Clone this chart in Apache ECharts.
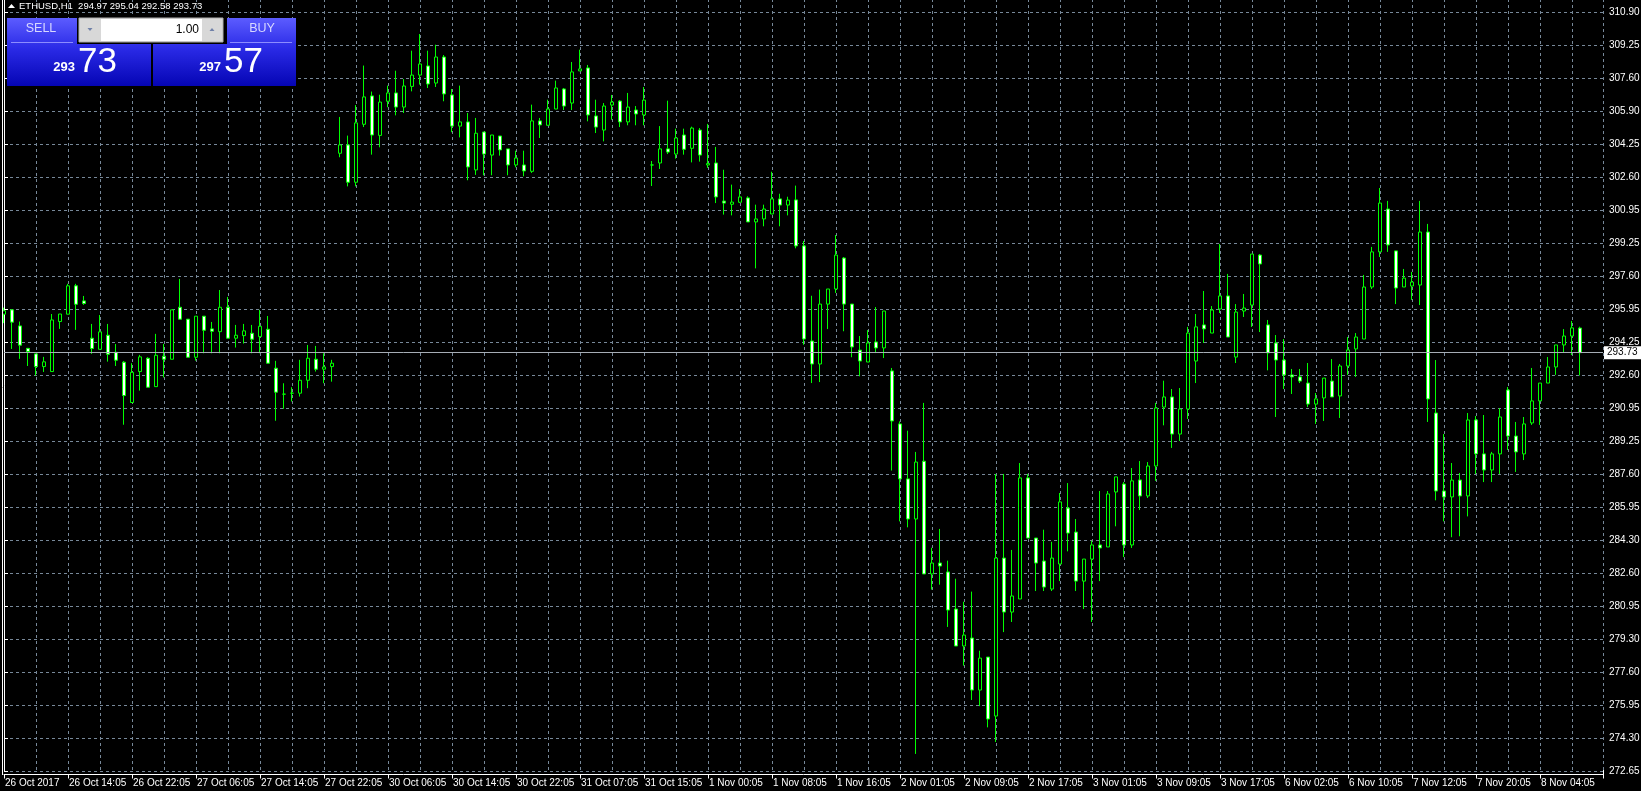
<!DOCTYPE html>
<html><head><meta charset="utf-8">
<style>html,body{margin:0;padding:0;background:#000;}#c{width:1641px;height:791px;}</style>
<script src="https://cdn.jsdelivr.net/npm/echarts@6/dist/echarts.min.js"></script>
</head><body><div id="c"></div>
<script>
const symbolName = 'ETHUSD,H1';
const xTickLabels = ['26 Oct 2017','26 Oct 14:05','26 Oct 22:05','27 Oct 06:05','27 Oct 14:05','27 Oct 22:05','30 Oct 06:05','30 Oct 14:05','30 Oct 22:05','31 Oct 07:05','31 Oct 15:05','1 Nov 00:05','1 Nov 08:05','1 Nov 16:05','2 Nov 01:05','2 Nov 09:05','2 Nov 17:05','3 Nov 01:05','3 Nov 09:05','3 Nov 17:05','6 Nov 02:05','6 Nov 10:05','7 Nov 12:05','7 Nov 20:05','8 Nov 04:05'];
const yTickLabels = ['272.65','274.30','275.95','277.60','279.30','280.95','282.60','284.30','285.95','287.60','289.25','290.95','292.60','294.25','295.95','297.60','299.25','300.95','302.60','304.25','305.90','307.60','309.25','310.90'];

const opens = [295.67,295.89,295.08,293.95,293.67,293.03,292.78,295.30,295.67,297.10,296.34,294.46,293.90,294.61,293.75,293.25,291.22,292.78,293.45,292.02,293.55,293.40,296.02,295.42,293.50,295.57,294.93,294.79,296.02,294.46,294.59,294.71,294.54,294.91,292.95,291.64,291.69,291.69,292.34,293.40,292.90,293.03,
303.78,304.20,302.32,305.24,306.67,304.68,306.40,306.82,306.11,307.15,307.72,308.18,307.32,308.63,306.72,305.15,305.36,302.94,304.85,303.69,304.65,304.00,303.19,303.19,302.87,305.41,305.19,306.01,307.02,306.31,307.93,308.08,305.66,304.95,306.21,306.41,305.36,305.96,305.71,
303.19,303.29,304.00,303.74,304.70,304.03,304.95,303.19,303.29,301.37,301.21,301.31,301.53,300.32,300.47,300.72,301.48,301.17,301.43,299.11,294.32,293.16,296.18,296.94,298.50,296.18,293.86,293.26,294.27,293.97,
292.81,290.14,287.37,285.35,288.26,282.58,283.13,282.68,280.81,278.95,279.35,276.73,278.39,275.42,283.38,280.66,281.32,287.42,284.39,283.23,281.82,283.08,285.90,284.69,282.22,283.33,284.04,283.94,286.71,287.11,284.04,287.32,286.51,288.02,
290.99,291.50,289.63,290.89,293.31,295.13,294.72,295.93,296.59,293.51,295.83,296.13,298.65,295.13,294.22,293.36,292.61,292.51,292.20,291.14,291.45,292.30,291.55,293.06,293.92,294.42,297.04,298.81,300.97,298.86,297.04,297.09,297.14,299.81,
290.69,286.76,286.46,287.31,286.51,290.34,288.63,287.82,288.63,291.85,289.53,288.63,290.19,291.30,292.20,293.01,294.12,294.57,294.97];
const closes = [295.84,295.27,294.11,293.79,293.03,293.27,295.38,295.68,297.10,296.17,296.21,293.94,294.78,293.65,293.35,291.57,292.74,293.52,291.99,293.60,293.40,295.89,295.42,293.50,295.57,294.86,294.81,296.02,294.46,294.61,294.83,294.41,295.06,293.20,291.74,291.64,291.69,292.34,293.45,292.90,293.01,293.20,
304.20,302.32,305.31,306.62,304.70,306.36,306.82,306.11,307.17,307.72,308.28,307.27,308.63,306.77,305.15,305.36,303.09,304.79,303.74,304.70,303.95,303.19,303.54,302.89,305.41,305.21,306.01,307.07,306.16,307.88,308.03,305.71,305.10,306.16,306.36,305.36,306.11,305.76,306.46,
303.19,304.00,303.84,304.55,303.98,305.05,303.69,303.26,301.58,301.27,301.32,301.58,300.32,300.47,300.97,301.48,301.17,301.42,299.11,294.42,293.16,296.18,296.94,298.65,296.18,294.02,293.31,294.22,293.97,295.83,
290.29,287.37,285.35,288.22,282.58,283.13,282.98,280.76,278.95,279.50,276.73,278.34,275.27,283.38,280.66,281.47,287.42,284.39,283.13,281.92,283.38,286.21,284.64,282.22,283.33,284.04,283.89,286.61,287.47,284.04,287.27,286.51,288.02,290.94,
291.50,289.63,290.89,294.72,295.03,294.93,295.88,296.59,294.52,295.78,295.98,298.70,298.20,293.72,293.36,292.61,292.51,292.30,291.14,291.40,292.45,291.50,293.06,293.87,294.52,297.04,298.81,301.27,299.16,296.99,297.49,297.29,299.81,291.40,
286.76,286.46,287.31,286.51,290.34,288.63,287.82,288.63,290.49,289.53,288.73,290.14,291.30,292.20,293.01,294.12,294.57,294.98,293.73];
const lows = [295.22,293.92,293.42,293.06,292.58,292.76,292.78,294.93,295.67,294.88,296.14,293.67,293.90,293.28,293.06,290.10,291.22,291.82,291.99,292.02,292.48,293.40,295.42,293.50,293.33,293.70,293.70,293.70,294.46,293.99,294.19,293.70,293.70,293.20,290.30,290.90,291.27,291.52,291.94,292.78,292.19,292.27,
303.58,302.11,302.11,305.10,303.71,304.08,306.10,305.69,305.81,306.90,307.24,307.07,307.12,306.40,304.84,304.58,302.42,302.69,302.67,302.67,303.66,302.67,303.07,302.62,302.79,304.55,305.19,306.01,305.96,305.96,307.93,305.39,304.80,304.38,305.47,305.10,305.19,305.19,305.19,
302.13,302.99,303.74,303.51,303.71,303.32,303.36,303.04,301.27,300.69,300.65,301.27,300.32,297.98,300.10,300.72,300.10,300.65,298.99,294.13,292.20,292.25,294.92,296.74,294.81,293.50,292.54,293.26,293.71,293.46,
287.79,285.23,284.93,273.51,282.58,281.79,282.04,279.91,278.95,277.96,276.23,275.92,274.85,274.11,279.65,280.16,281.32,284.39,281.72,281.72,281.72,282.22,283.72,281.72,280.81,280.16,282.22,283.94,284.98,283.43,283.89,285.80,286.41,287.27,
290.07,288.93,289.28,290.39,292.20,294.22,294.72,295.73,294.52,293.21,295.53,295.03,294.77,292.84,290.49,291.90,291.65,292.20,290.99,290.14,290.29,291.50,290.44,292.61,292.51,294.42,296.94,298.55,298.81,296.18,297.04,296.39,296.13,290.24,
286.29,285.23,284.43,284.48,285.48,287.62,287.21,287.21,287.62,288.83,287.72,288.32,290.09,290.09,292.20,292.61,293.72,293.61,292.58];
const highs = [296.00,295.92,295.30,293.95,293.67,293.52,295.68,295.68,297.20,297.20,296.59,295.18,295.63,295.18,294.17,293.31,293.20,293.62,293.50,294.68,294.17,295.89,297.45,295.42,295.57,295.57,295.28,296.89,296.54,295.13,295.18,295.13,295.89,295.58,293.32,292.19,291.99,293.37,294.12,294.07,293.70,293.37,
305.61,304.67,306.21,308.20,306.89,306.73,307.19,307.94,307.52,308.95,309.79,308.95,309.25,308.73,307.02,307.19,305.81,305.56,304.85,304.70,304.65,304.00,303.91,303.91,306.23,305.56,306.48,307.44,307.07,308.38,309.00,308.23,306.48,306.31,306.72,306.46,306.82,306.16,307.12,
303.39,305.15,306.43,305.02,305.02,305.12,305.05,305.26,304.10,302.95,302.20,301.98,301.61,301.19,301.19,302.85,301.74,301.59,302.15,299.36,296.60,296.91,296.94,299.66,298.55,296.18,294.57,294.87,296.03,295.83,
292.96,290.27,289.80,288.73,291.20,283.90,284.85,283.25,282.34,281.18,281.69,278.71,278.39,287.62,287.62,283.79,288.17,287.62,284.39,284.81,284.20,286.66,287.16,285.35,283.33,284.26,286.76,286.76,287.47,287.21,287.92,288.27,288.22,291.20,
292.32,291.90,291.95,295.03,295.68,296.84,296.08,299.21,297.70,296.18,296.69,298.70,298.70,295.38,294.62,294.42,292.91,292.91,293.21,291.70,292.45,293.41,293.16,294.52,294.72,297.65,299.06,302.03,301.38,298.86,297.95,297.80,301.38,300.22,
293.36,289.63,288.17,287.67,290.69,290.54,290.59,288.73,290.93,292.00,290.24,290.49,292.96,292.20,293.51,294.12,294.92,295.33,295.04];

const bidSmall = '293', bidBig = '73', askSmall = '297', askBig = '57', lotText = '1.00';

const FONT = 'Tahoma, "Liberation Sans", Arial, sans-serif';
const GRID_COLOR = '#778899';
const Y_MIN = 272.65, Y_STEP = 1.663, GRID_PX = 33;
const GRID_TOP = -1, GRID_BOTTOM_Y = 771, GRID_LEFT = 4, GRID_RIGHT_X = 1603, BAR_PX = 8, LABEL_EVERY = 8;
const Y_MAX = Y_MIN + (GRID_BOTTOM_Y - GRID_TOP) * Y_STEP / GRID_PX;
const X_MAX = (GRID_RIGHT_X - GRID_LEFT) / BAR_PX;

const candles = opens.map((o, i) => [i, o, closes[i], lows[i], highs[i]]);
const last = opens.length - 1;
const lastClose = closes[last];

const chart = echarts.init(document.getElementById('c'), null, {renderer: 'canvas'});
const grad = {type: 'linear', x: 0, y: 0, x2: 0, y2: 1, colorStops: [{offset: 0, color: '#5c5cff'}, {offset: 0.45, color: '#2a2ae6'}, {offset: 1, color: '#0505b4'}]};

chart.setOption({
  backgroundColor: '#000',
  animation: false,
  grid: {left: GRID_LEFT, right: 1641 - GRID_RIGHT_X, top: GRID_TOP, bottom: 791 - GRID_BOTTOM_Y, containLabel: false, outerBoundsMode: 'none'},
  xAxis: {
    type: 'value', min: 0, max: X_MAX, interval: LABEL_EVERY, offset: 3.5,
    axisLine: {show: true, onZero: false, lineStyle: {color: '#ffffff', width: 1}},
    axisTick: {show: true, length: 4, lineStyle: {color: '#ffffff'}},
    axisLabel: {color: '#ffffff', fontSize: 10, fontFamily: FONT, align: 'left', margin: 4, padding: [0, 0, 0, 1],
      formatter: v => { const k = Math.round(v / LABEL_EVERY); return (Math.abs(v - k * LABEL_EVERY) < 1e-6 && k < xTickLabels.length) ? xTickLabels[k] : ''; }},
    splitLine: {show: true, lineStyle: {color: GRID_COLOR, type: [3, 3], width: 1}},
    minorTick: {show: false, splitNumber: 2},
    minorSplitLine: {show: true, lineStyle: {color: GRID_COLOR, type: [3, 3], width: 1}}
  },
  yAxis: {
    type: 'value', position: 'right', min: Y_MIN, max: Y_MAX, interval: Y_STEP, scale: true,
    axisLine: {show: true, lineStyle: {color: '#ffffff', width: 1}},
    axisTick: {show: true, length: 4, lineStyle: {color: '#ffffff'}},
    axisLabel: {color: '#ffffff', fontSize: 10, fontFamily: FONT, margin: 6,
      formatter: v => { const k = Math.round((v - Y_MIN) / Y_STEP); return (Math.abs(v - (Y_MIN + k * Y_STEP)) < 1e-3 && k >= 0 && k < yTickLabels.length) ? yTickLabels[k] : ''; }},
    splitLine: {show: true, lineStyle: {color: GRID_COLOR, type: [3, 3], width: 1}}
  },
  series: [{
    type: 'candlestick', data: candles, clip: false, barWidth: 4, silent: true,
    itemStyle: {color: '#000000', color0: '#ffffff', borderColor: '#00ff00', borderColor0: '#00ff00', borderColorDoji: '#00ff00', borderWidth: 1},
    markLine: {
      symbol: ['none', 'none'], silent: true, animation: false,
      lineStyle: {color: '#a6adb5', width: 1, type: 'solid'},
      label: {show: true, position: 'end', distance: 1, formatter: lastClose.toFixed(2), color: '#000', backgroundColor: '#ffffff', fontSize: 10, fontFamily: FONT, padding: [2, 6, 1, 3]},
      data: [{yAxis: lastClose}]
    }
  }],
  graphic: [
    {type: 'line', silent: true, z: 50, shape: {x1: 2.5, y1: 0, x2: 2.5, y2: 775}, style: {stroke: '#ffffff', lineWidth: 1}},
    {type: 'line', silent: true, z: 50, shape: {x1: 1603.5, y1: 770, x2: 1603.5, y2: 775}, style: {stroke: '#ffffff', lineWidth: 1}},
    {type: 'polygon', silent: true, z: 100, shape: {points: [[8, 8], [11.5, 4], [15, 8]]}, style: {fill: '#ffffff'}},
    {type: 'text', silent: true, z: 100, x: 19, y: 6, style: {text: symbolName + '  ' + [opens[last], highs[last], lows[last], closes[last]].map(v => v.toFixed(2)).join(' '), fill: '#ffffff', font: '9.5px ' + FONT, align: 'left', verticalAlign: 'middle'}},
    {type: 'rect', silent: true, z: 100, shape: {x: 7, y: 18, width: 144, height: 68}, style: {fill: grad}},
    {type: 'rect', silent: true, z: 100, shape: {x: 153, y: 18, width: 143, height: 68}, style: {fill: grad}},
    {type: 'rect', silent: true, z: 101, shape: {x: 77, y: 16, width: 150, height: 28}, style: {fill: '#000000'}},
    {type: 'rect', silent: true, z: 102, shape: {x: 79, y: 18, width: 144, height: 24}, style: {fill: '#d8d8d8', stroke: '#b0b0b0', lineWidth: 1}},
    {type: 'rect', silent: true, z: 103, shape: {x: 101, y: 19, width: 101, height: 22}, style: {fill: '#ffffff'}},
    {type: 'polygon', silent: true, z: 103, shape: {points: [[87.5, 28], [92.5, 28], [90, 31]]}, style: {fill: '#7080a8'}},
    {type: 'polygon', silent: true, z: 103, shape: {points: [[209.5, 31], [214.5, 31], [212, 28]]}, style: {fill: '#7080a8'}},
    {type: 'text', silent: true, z: 104, x: 199, y: 30, style: {text: lotText, fill: '#000000', font: '12px ' + FONT, align: 'right', verticalAlign: 'middle'}},
    {type: 'text', silent: true, z: 104, x: 41, y: 29, style: {text: 'SELL', fill: '#d8d8ff', font: '12.5px ' + FONT, align: 'center', verticalAlign: 'middle'}},
    {type: 'text', silent: true, z: 104, x: 262, y: 29, style: {text: 'BUY', fill: '#d8d8ff', font: '12.5px ' + FONT, align: 'center', verticalAlign: 'middle'}},
    {type: 'line', silent: true, z: 104, shape: {x1: 11, y1: 42.5, x2: 73, y2: 42.5}, style: {stroke: '#8c8cff', lineWidth: 1}},
    {type: 'line', silent: true, z: 104, shape: {x1: 230, y1: 42.5, x2: 292, y2: 42.5}, style: {stroke: '#8c8cff', lineWidth: 1}},
    {type: 'text', silent: true, z: 104, x: 75, y: 74, style: {text: bidSmall, fill: '#ffffff', font: 'bold 13px ' + FONT, align: 'right', verticalAlign: 'bottom'}},
    {type: 'text', silent: true, z: 104, x: 78, y: 80, style: {text: bidBig, fill: '#ffffff', font: '35px ' + FONT, align: 'left', verticalAlign: 'bottom'}},
    {type: 'text', silent: true, z: 104, x: 221, y: 74, style: {text: askSmall, fill: '#ffffff', font: 'bold 13px ' + FONT, align: 'right', verticalAlign: 'bottom'}},
    {type: 'text', silent: true, z: 104, x: 224, y: 80, style: {text: askBig, fill: '#ffffff', font: '35px ' + FONT, align: 'left', verticalAlign: 'bottom'}}
  ]
});
</script>
</body></html>
